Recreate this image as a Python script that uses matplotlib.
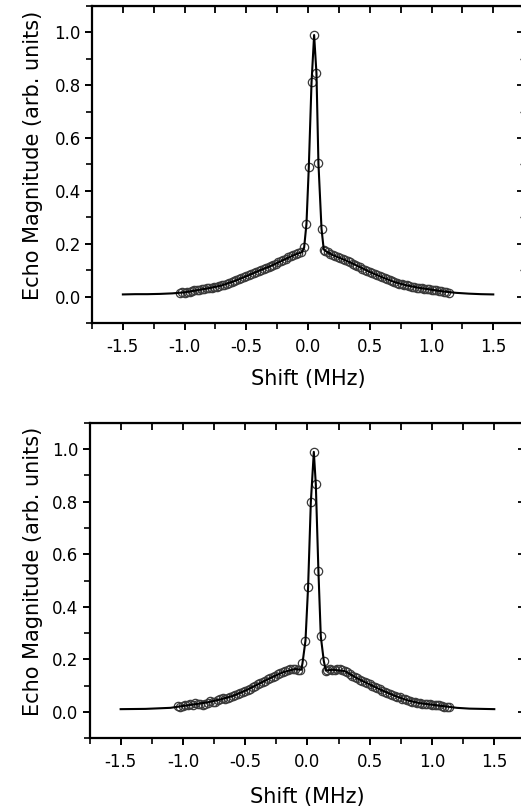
import numpy as np
import matplotlib
matplotlib.use('Agg')
import matplotlib.pyplot as plt
from matplotlib.ticker import MultipleLocator

plt.rcParams['font.family'] = ['DejaVu Sans']

# ---- top panel: measured points ----
top_x = [-1.04, -1.02, -1.00, -0.98, -0.96, -0.94, -0.92, -0.90, -0.88, -0.86,
         -0.84, -0.82, -0.80, -0.78, -0.76, -0.74, -0.72, -0.70, -0.68, -0.66,
         -0.64, -0.62, -0.60, -0.58, -0.56, -0.54, -0.52, -0.50, -0.48, -0.46,
         -0.44, -0.42, -0.40, -0.38, -0.36, -0.34, -0.32, -0.30, -0.28, -0.26,
         -0.24, -0.22, -0.20, -0.18, -0.16, -0.14, -0.12, -0.10, -0.08, -0.06,
         -0.032, -0.013, 0.006, 0.028, 0.049, 0.068, 0.084, 0.109, 0.127,
         0.14, 0.16, 0.18, 0.20, 0.22, 0.24, 0.26, 0.28, 0.30, 0.32,
         0.34, 0.36, 0.38, 0.40, 0.42, 0.44, 0.46, 0.48, 0.50, 0.52,
         0.54, 0.56, 0.58, 0.60, 0.62, 0.64, 0.66, 0.68, 0.70, 0.72,
         0.74, 0.76, 0.78, 0.80, 0.82, 0.84, 0.86, 0.88, 0.90, 0.92,
         0.94, 0.96, 0.98, 1.00, 1.02, 1.04, 1.06, 1.08, 1.10, 1.12, 1.14]
top_y = [0.014, 0.016, 0.015, 0.018, 0.019, 0.021, 0.024, 0.025, 0.026, 0.028,
         0.029, 0.031, 0.033, 0.034, 0.036, 0.038, 0.040, 0.042, 0.045, 0.047,
         0.050, 0.054, 0.058, 0.062, 0.066, 0.070, 0.073, 0.077, 0.081, 0.085,
         0.089, 0.093, 0.097, 0.101, 0.105, 0.109, 0.113, 0.117, 0.121, 0.125,
         0.129, 0.134, 0.139, 0.143, 0.148, 0.152, 0.156, 0.160, 0.163, 0.167,
         0.188, 0.275, 0.491, 0.812, 0.992, 0.845, 0.504, 0.256, 0.178,
         0.172, 0.167, 0.162, 0.158, 0.153, 0.149, 0.145, 0.141, 0.138, 0.134,
         0.129, 0.125, 0.120, 0.116, 0.111, 0.106, 0.102, 0.097, 0.093, 0.089,
         0.085, 0.081, 0.077, 0.073, 0.069, 0.065, 0.061, 0.058, 0.055, 0.052,
         0.049, 0.047, 0.044, 0.042, 0.040, 0.038, 0.036, 0.034, 0.033, 0.031,
         0.030, 0.029, 0.027, 0.026, 0.025, 0.023, 0.022, 0.020, 0.018, 0.017, 0.015]

# ---- top panel: fit curve ----
top_fit_x = [-1.5, -1.4, -1.3, -1.2, -1.1, -1.0, -0.9, -0.8, -0.7, -0.6, -0.5,
             -0.4, -0.3, -0.2, -0.1, -0.05, -0.032, -0.013, 0.006, 0.028, 0.049,
             0.068, 0.084, 0.109, 0.127, 0.15, 0.2, 0.3, 0.4, 0.5, 0.6, 0.7,
             0.8, 0.9, 1.0, 1.1, 1.2, 1.3, 1.4, 1.5]
top_fit_y = [0.008, 0.009, 0.009, 0.010, 0.012, 0.016, 0.024, 0.032, 0.042, 0.058, 0.077,
             0.097, 0.116, 0.138, 0.160, 0.168, 0.185, 0.275, 0.490, 0.810, 0.990,
             0.845, 0.504, 0.256, 0.178, 0.170, 0.157, 0.138, 0.116, 0.093, 0.073, 0.055,
             0.042, 0.033, 0.026, 0.019, 0.014, 0.011, 0.009, 0.008]

# ---- bottom panel: measured points ----
bot_x = [-1.04, -1.02, -1.00, -0.98, -0.96, -0.94, -0.92, -0.90, -0.88, -0.86,
         -0.84, -0.82, -0.80, -0.78, -0.76, -0.74, -0.72, -0.70, -0.68, -0.66,
         -0.64, -0.62, -0.60, -0.58, -0.56, -0.54, -0.52, -0.50, -0.48, -0.46,
         -0.44, -0.42, -0.40, -0.38, -0.36, -0.34, -0.32, -0.30, -0.28, -0.26,
         -0.24, -0.22, -0.20, -0.18, -0.16, -0.14, -0.12, -0.10, -0.08, -0.06,
         -0.040, -0.016, 0.005, 0.027, 0.051, 0.067, 0.088, 0.107, 0.131, 0.147,
         0.16, 0.18, 0.20, 0.22, 0.24, 0.26, 0.28, 0.30, 0.32, 0.34,
         0.36, 0.38, 0.40, 0.42, 0.44, 0.46, 0.48, 0.50, 0.52, 0.54,
         0.56, 0.58, 0.60, 0.62, 0.64, 0.66, 0.68, 0.70, 0.72, 0.74,
         0.76, 0.78, 0.80, 0.82, 0.84, 0.86, 0.88, 0.90, 0.92, 0.94,
         0.96, 0.98, 1.00, 1.02, 1.04, 1.06, 1.08, 1.10, 1.12, 1.14]
bot_y = [0.022, 0.018, 0.021, 0.026, 0.024, 0.029, 0.027, 0.033, 0.031, 0.028,
         0.026, 0.030, 0.035, 0.040, 0.037, 0.036, 0.043, 0.048, 0.052, 0.049,
         0.053, 0.058, 0.060, 0.063, 0.066, 0.070, 0.074, 0.079, 0.084, 0.088,
         0.094, 0.099, 0.104, 0.108, 0.114, 0.119, 0.124, 0.128, 0.132, 0.138,
         0.142, 0.146, 0.150, 0.155, 0.158, 0.162, 0.164, 0.163, 0.160, 0.158,
         0.185, 0.271, 0.475, 0.798, 0.990, 0.866, 0.535, 0.287, 0.194, 0.157,
         0.158, 0.162, 0.161, 0.158, 0.162, 0.164, 0.160, 0.155, 0.150, 0.143,
         0.137, 0.132, 0.127, 0.122, 0.118, 0.114, 0.109, 0.104, 0.099, 0.095,
         0.090, 0.086, 0.081, 0.077, 0.072, 0.068, 0.064, 0.060, 0.057, 0.055,
         0.050, 0.047, 0.044, 0.041, 0.039, 0.036, 0.034, 0.032, 0.030, 0.029,
         0.028, 0.030, 0.027, 0.025, 0.024, 0.027, 0.023, 0.020, 0.018, 0.017]

# ---- bottom panel: fit curve ----
bot_fit_x = [-1.5, -1.3, -1.1, -1.0, -0.9, -0.8, -0.7, -0.6, -0.5, -0.4, -0.3,
             -0.2, -0.1, -0.05, -0.040, -0.016, 0.005, 0.027, 0.051, 0.067, 0.088,
             0.107, 0.131, 0.147, 0.2, 0.3, 0.4, 0.5, 0.6, 0.7, 0.8, 0.9, 1.0,
             1.1, 1.2, 1.3, 1.5]
bot_fit_y = [0.010, 0.011, 0.015, 0.022, 0.029, 0.036, 0.047, 0.060, 0.080, 0.104, 0.128,
             0.150, 0.163, 0.160, 0.185, 0.271, 0.475, 0.798, 0.990, 0.866, 0.535,
             0.287, 0.194, 0.157, 0.160, 0.155, 0.127, 0.104, 0.081, 0.061, 0.044, 0.033, 0.027,
             0.021, 0.015, 0.012, 0.010]

xtick_vals = [-1.5, -1.0, -0.5, 0.0, 0.5, 1.0, 1.5]
xtick_labels = ['-1.5', '-1.0', '-0.5', '0.0', '0.5', '1.0', '1.5']

fig = plt.figure(figsize=(5.21, 8.08), dpi=100)
ax1 = fig.add_axes([0.1766, 0.6003, 0.8294, 0.3923])
ax2 = fig.add_axes([0.1718, 0.0866, 0.8367, 0.3899])


def style(ax, ylab_x, xlab_pad):
    ax.set_xlim(-1.75, 1.75)
    ax.set_ylim(-0.1, 1.1)
    ax.set_xticks(xtick_vals)
    ax.set_xticklabels(xtick_labels)
    ax.xaxis.set_minor_locator(MultipleLocator(0.25))
    ax.yaxis.set_major_locator(MultipleLocator(0.2))
    ax.yaxis.set_minor_locator(MultipleLocator(0.1))
    for s in ax.spines.values():
        s.set_linewidth(1.6)
    ax.tick_params(axis='both', which='major', direction='out', length=5,
                   width=1.4, labelsize=12)
    ax.tick_params(axis='both', which='minor', direction='out', length=4, width=1.2)
    ax.tick_params(axis='x', which='major', pad=6)
    ax.tick_params(axis='y', which='major', pad=3)
    # inward ticks on top and right
    tx = ax.secondary_xaxis('top')
    tx.set_xticks(xtick_vals)
    tx.xaxis.set_minor_locator(MultipleLocator(0.25))
    tx.tick_params(which='both', direction='in', length=5, width=1.3, labeltop=False)
    ty = ax.secondary_yaxis('right')
    ty.yaxis.set_major_locator(MultipleLocator(0.2))
    ty.yaxis.set_minor_locator(MultipleLocator(0.1))
    ty.tick_params(which='major', direction='in', length=5, width=1.3, labelright=False)
    ty.tick_params(which='minor', direction='in', length=3, width=1.0)
    ax.set_xlabel('Shift (MHz)', fontsize=15, labelpad=xlab_pad)
    ax.set_ylabel('Echo Magnitude (arb. units)', fontsize=15)
    ax.yaxis.set_label_coords(ylab_x, 0.53)


for ax, xs, ys, fx, fy, lx, lp in [(ax1, top_x, top_y, top_fit_x, top_fit_y, -0.113, 9),
                                   (ax2, bot_x, bot_y, bot_fit_x, bot_fit_y, -0.107, 11)]:
    ax.plot(xs, ys, 'o', mfc='none', mec='#3a3a3a', ms=6, mew=0.9)
    ax.plot(fx, fy, '-', color='black', lw=1.5)
    style(ax, lx, lp)

fig.savefig('out.png', dpi=100)
